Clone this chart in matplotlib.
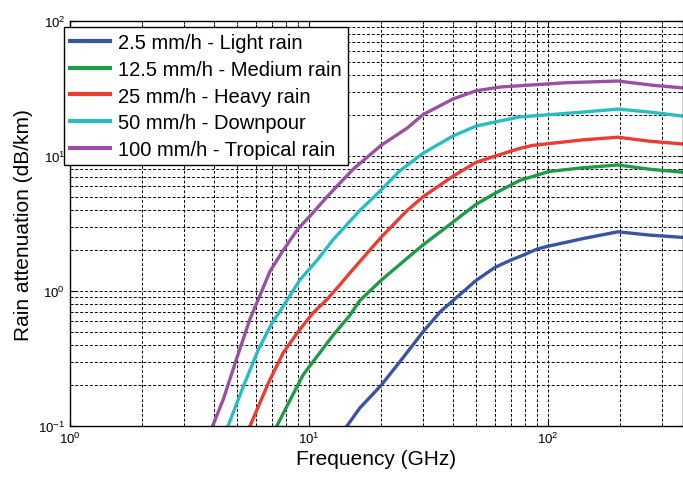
import numpy as np
import matplotlib
matplotlib.use('Agg')
import matplotlib.pyplot as plt
from matplotlib.ticker import LogLocator, NullFormatter

plt.rcParams['font.family'] = ['Liberation Sans', 'DejaVu Sans']

# values (frequency in GHz, attenuation in dB/km)
f_light = [14.4, 16.3, 20, 24, 30, 35.3, 40, 50, 60, 70, 80, 90, 100, 140, 196, 266, 367]
a_light = [0.1, 0.136, 0.2, 0.3, 0.5, 0.7, 0.85, 1.2, 1.5, 1.7, 1.87, 2.05, 2.15, 2.45, 2.75, 2.6, 2.5]

f_medium = [7.33, 8.3, 9.45, 11.1, 12.6, 14.8, 16.3, 20, 25.7, 30, 37.8, 50, 60, 76, 101, 140, 196, 266, 367]
a_medium = [0.1, 0.154, 0.24, 0.35, 0.47, 0.66, 0.85, 1.2, 1.75, 2.2, 3.0, 4.4, 5.3, 6.6, 7.7, 8.2, 8.6, 8.0, 7.6]

f_heavy = [5.66, 6.77, 7.8, 9.0, 10.4, 11.9, 13.5, 14.8, 20, 25.7, 30, 40, 50, 60, 76, 86, 140, 196, 266, 367]
a_heavy = [0.1, 0.21, 0.35, 0.5, 0.69, 0.87, 1.12, 1.36, 2.5, 3.95, 5.0, 7.1, 9.0, 10.0, 11.4, 12.0, 13.2, 13.8, 12.9, 12.3]

f_down = [4.58, 5.3, 6.14, 7.0, 7.9, 9.15, 10.8, 12.6, 16.3, 20, 24, 30, 40, 50, 60, 76, 140, 196, 266, 367]
a_down = [0.1, 0.195, 0.37, 0.58, 0.8, 1.21, 1.69, 2.4, 3.95, 5.6, 7.8, 10.5, 14.1, 16.7, 17.9, 19.5, 21.2, 22.3, 21.2, 19.8]

f_trop = [3.95, 4.39, 4.96, 5.66, 6.34, 6.86, 7.79, 9.0, 10.1, 11.9, 13.9, 15.3, 20, 25.7, 30, 40, 50, 63, 120, 196, 274, 367]
a_trop = [0.1, 0.16, 0.31, 0.62, 1.0, 1.4, 2.0, 2.9, 3.6, 5.0, 6.7, 8.0, 12.0, 16.1, 20.3, 26.5, 30.5, 32.5, 35.0, 36.0, 33.5, 32.0]

labels = ['2.5 mm/h - Light rain', '12.5 mm/h - Medium rain', '25 mm/h - Heavy rain',
          '50 mm/h - Downpour', '100 mm/h - Tropical rain']
colors = ['#3a53a4', '#1f9a48', '#ee3b30', '#27bec3', '#9a4fa3']

fig = plt.figure(figsize=(6.83, 4.81), dpi=100)
ax = fig.add_axes([0.1025, 0.112, 0.8975, 0.842])

series = [(f_light, a_light), (f_medium, a_medium), (f_heavy, a_heavy),
          (f_down, a_down), (f_trop, a_trop)]
for (f, a), lab, c in zip(series, labels, colors):
    ax.plot(f, a, color=c, lw=2.4, label=lab, solid_joinstyle='round')

ax.set_xscale('log')
ax.set_yscale('log')
ax.set_xlim(1, 367)
ax.set_ylim(0.1, 100)

ax.xaxis.set_major_locator(LogLocator(base=10))
ax.yaxis.set_major_locator(LogLocator(base=10))
ax.xaxis.set_minor_locator(LogLocator(base=10, subs=np.arange(2, 10)))
ax.yaxis.set_minor_locator(LogLocator(base=10, subs=np.arange(2, 10)))
ax.xaxis.set_minor_formatter(NullFormatter())
ax.yaxis.set_minor_formatter(NullFormatter())

ax.grid(True, which='both', color='black', linestyle=(0, (3, 2)), linewidth=0.7)
ax.tick_params(which='both', direction='in', top=True, right=True, labelsize=9.5)
ax.tick_params(which='major', length=4)
ax.tick_params(which='minor', length=2)
for s in ax.spines.values():
    s.set_linewidth(1.0)

ax.set_xlabel('Frequency (GHz)', fontsize=15, labelpad=2)
ax.set_ylabel('Rain attenuation (dB/km)', fontsize=15, labelpad=4)

leg = ax.legend(loc='upper left', bbox_to_anchor=(-0.01, 0.985), fontsize=14.5,
                frameon=True, fancybox=False, edgecolor='black', framealpha=1,
                handlelength=2.0, handletextpad=0.4, borderpad=0.3,
                labelspacing=0.38, borderaxespad=0.0)
leg.get_frame().set_linewidth(1.0)
for h in leg.get_lines():
    h.set_linewidth(3)

fig.savefig('out.png', dpi=100)
